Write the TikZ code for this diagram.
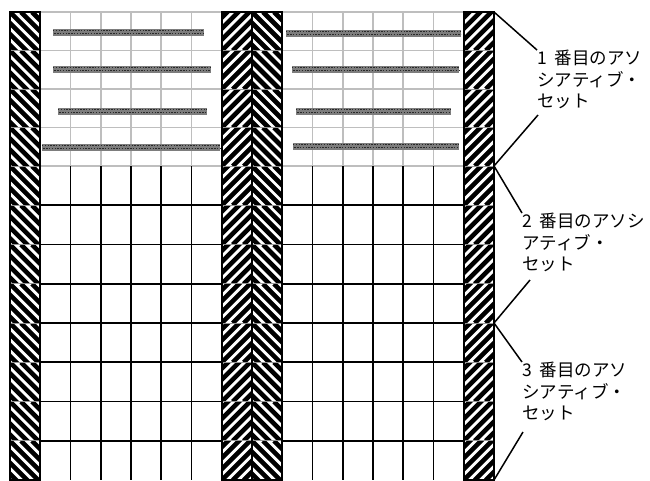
\documentclass[tikz,border=0pt]{standalone}
\usepackage{fontspec}
\newfontfamily\jpfont{Noto Sans CJK JP}
\newcommand\numlead[1]{\makebox[1em][l]{#1}}
\begin{document}
\begin{tikzpicture}[x=1pt,y=-1pt,
  lightgrid/.style={draw={rgb,255:red,190;green,190;blue,190},line width=1.6pt},
  darkgrid/.style={draw=black,line width=1.6pt},
  stripe/.style={draw=black,line width=4.6pt},
  colborder/.style={draw=black,line width=1.6pt},
  cellsep/.style={draw={rgb,255:red,150;green,150;blue,150},line width=0.7pt},
  bar/.style={fill={rgb,255:red,125;green,125;blue,125}},
  bardots/.style={draw={rgb,255:red,40;green,40;blue,40},line width=1.4pt,dash pattern=on 1.4pt off 1.4pt},
  lbl/.style={font=\jpfont\fontsize{17.5}{21.5}\selectfont,align=left,inner sep=0pt,anchor=north west},
  conn/.style={draw=black,line width=1.5pt}]
\useasboundingbox[fill=white] (0,0) rectangle (650,480);

% light grid (first associative set)
\foreach \xa/\xb in {41.25/221.75, 282.25/463.75}{
  \foreach \yy in {12,50.5,89,127.5,166}
    \draw[lightgrid] (\xa,\yy) -- (\xb,\yy);
}
\foreach \i in {1,...,6,9,10,...,14}{
  \draw[lightgrid] ({10+30.25*\i},12) -- ({10+30.25*\i},166);
  \draw[darkgrid] ({10+30.25*\i},166) -- ({10+30.25*\i},480);
}
% dark grid
\foreach \xa/\xb in {41.25/221.75, 282.25/463.75}{
  \foreach \yy in {205.25,244.5,283.75,323,362.25,401.5,440.75}
    \draw[darkgrid] (\xa,\yy) -- (\xb,\yy);
}

% hatched columns
\foreach \cx in {10,252}{
  \foreach \ya/\yb in {12/50.5,50.5/89,89/127.5,127.5/166,166/205.25,205.25/244.5,244.5/283.75,283.75/323,323/362.25,362.25/401.5,401.5/440.75,440.75/480}{
    \begin{scope}
      \clip (\cx,\ya) rectangle ({\cx+30.25},\yb);
      \foreach \k in {-55,-44,...,40}
        \draw[stripe] ({\cx+\k},\ya) -- ++(58,58);
    \end{scope}
    \draw[cellsep] (\cx,\ya) -- ({\cx+30.25},\ya);
  }
  \draw[colborder] (\cx,12) rectangle ({\cx+30.25},480);
}
\foreach \cx in {221.75,463.75}{
  \foreach \ya/\yb in {12/50.5,50.5/89,89/127.5,127.5/166,166/205.25,205.25/244.5,244.5/283.75,283.75/323,323/362.25,362.25/401.5,401.5/440.75,440.75/480}{
    \begin{scope}
      \clip (\cx,\ya) rectangle ({\cx+30.25},\yb);
      \foreach \k in {-55,-44,...,40}
        \draw[stripe] ({\cx+\k},\yb) -- ++(58,-58);
    \end{scope}
    \draw[cellsep] (\cx,\ya) -- ({\cx+30.25},\ya);
  }
  \draw[colborder] (\cx,12) rectangle ({\cx+30.25},480);
}

% gray bars (stored lines)
\foreach \xa/\xb/\yc in {53/204/32, 53/211/69, 58/207/111, 42/220/147,
                         286/461/33, 292/459/69, 296/451/111, 293/459/146}{
  \fill[bar] (\xa,{\yc-3.5}) rectangle (\xb,{\yc+3.5});
  \draw[bardots] (\xa,{\yc-1.7}) -- (\xb,{\yc-1.7});
  \draw[bardots,dash phase=1.4pt] (\xa,{\yc+1.7}) -- (\xb,{\yc+1.7});
}

% labels
\node[lbl] (l1) at (537,50) {\numlead{1}番目のアソ\\シアティブ・\\セット};
\node[lbl] (l2) at (522,213) {\numlead{2}番目のアソシ\\アティブ・\\セット};
\node[lbl] (l3) at (522,362) {\numlead{3}番目のアソ\\シアティブ・\\セット};

% bracket coordinates
\coordinate (c0) at (494,12);
\coordinate (c1) at (494,166);
\coordinate (c2) at (494,323);
\coordinate (c3) at (494,480);
\coordinate (l1t) at (537,50);
\coordinate (l1b) at (538,115);
\coordinate (l2t) at (522,213);
\coordinate (l2b) at (530,280);
\coordinate (l3t) at (522,362);
\coordinate (l3b) at (523,432);

\draw[conn] (c0) -- (l1t);
\draw[conn] (l1b) -- (c1);
\draw[conn] (c1) -- (l2t);
\draw[conn] (l2b) -- (c2);
\draw[conn] (c2) -- (l3t);
\draw[conn] (l3b) -- (c3);
\end{tikzpicture}
\end{document}
